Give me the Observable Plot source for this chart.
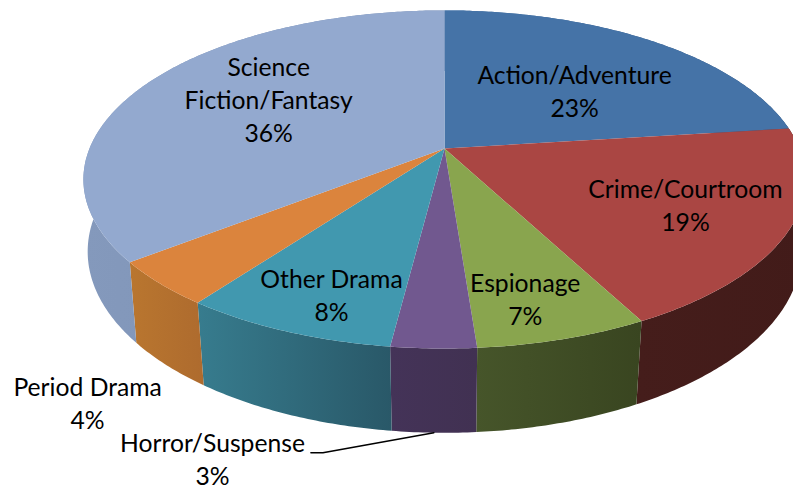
<!DOCTYPE html>
<html>
<head>
<meta charset="utf-8">
<script src="https://cdn.jsdelivr.net/npm/d3@7"></script>
<script src="https://cdn.jsdelivr.net/npm/@observablehq/plot@0.6"></script>
<style>
html,body{margin:0;padding:0;background:#fff;overflow:hidden}
svg{display:block}
</style>
</head>
<body>
<div id="chart"></div>
<script>
// Data
const categories = ["Action/Adventure","Crime/Courtroom","Espionage","Horror/Suspense","Other Drama","Period Drama","Science\nFiction/Fantasy"];
const shares = [23,19.3,6.5,3.2,8.1,4.3,35.6];

// Styles
const topColors = ["#4573A7","#AA4643","#89A54E","#71588F","#4198AF","#DB843D","#93A9CF"];
const wallLeft  = ["#4573A7","#451D1B","#46552A","#443358","#377C8E","#B9762F","#8499BC"];
const wallRight = ["#2F4E73","#421B19","#394520","#413152","#295868","#AE6B2E","#7A8FB2"];

// Label placement relative to a point at 0.6 of the radius on the slice's mid-angle (px)
const labelShift = [[0,9],[42,8],[15,44],[-226,199],[-25,44],[-196,177],[7,-9]];

// Projection of the tilted disc
const W = 793, H = 490;
const scaleX = 355, scaleY = 163.4, originX = 444, originY = 148;
const tilt = 0.183, depth = 73.5 / scaleY;

function project(turn, r, lower) {
  const a = turn * 2 * Math.PI, u = r * Math.sin(a), v = -r * Math.cos(a), d = 1 - tilt * v;
  if (!lower) return {x: u / d, y: v / d};
  const shrink = 0.972 + (d - 0.82) * 0.109;
  return {x: shrink * u / d, y: (shrink * v + depth) / d};
}

const starts = d3.cumsum([0, ...shares.slice(0, -1)]);
const slices = categories.map((name, i) => ({
  i, name, share: shares[i],
  a0: starts[i] / 100,
  a1: (starts[i] + shares[i]) / 100,
  mid: (starts[i] + shares[i] / 2) / 100
}));

function arc(s, lower) {
  const n = Math.max(4, Math.round(s.share * 6));
  return d3.range(n + 1).map(j => project(s.a0 + (s.a1 - s.a0) * j / n, 1, lower));
}
const topFace = s => [project(0, 0, false), ...arc(s, false)];
const wallFace = s => [...arc(s, false), ...arc(s, true).reverse()];

const gradients = () => {
  const ns = "http://www.w3.org/2000/svg";
  const defs = document.createElementNS(ns, "defs");
  slices.forEach(s => {
    const g = document.createElementNS(ns, "linearGradient");
    g.setAttribute("id", "wall" + s.i);
    [[0, wallLeft[s.i]], [1, wallRight[s.i]]].forEach(([o, c]) => {
      const st = document.createElementNS(ns, "stop");
      st.setAttribute("offset", o);
      st.setAttribute("stop-color", c);
      g.appendChild(st);
    });
    defs.appendChild(g);
  });
  return defs;
};

const line = (pts, fill) => Plot.line(pts, {x: "x", y: "y", fill, stroke: "none", curve: "linear-closed", clip: true});

const pxX = 1 / scaleX, pxY = 1 / scaleY;
const horror = slices[3];
const leaderEnd = project(horror.mid, 1, true);
const leaderKnee = {x: leaderEnd.x - 111 * pxX, y: leaderEnd.y + 20 * pxY};
const leaderStart = {x: leaderKnee.x - 12 * pxX, y: leaderKnee.y};

const chart = Plot.plot({
  width: W, height: H, margin: 0,
  style: {background: "#fff"},
  x: {domain: [-originX / scaleX, (W - originX) / scaleX], range: [0, W], axis: null},
  y: {domain: [-originY / scaleY, (H - originY) / scaleY], range: [0, H], axis: null},
  marks: [
    gradients,
    ...slices.map(s => line(wallFace(s), `url(#wall${s.i})`)),
    ...slices.map(s => line(topFace(s), topColors[s.i])),
    Plot.line([leaderStart, leaderKnee, leaderEnd], {x: "x", y: "y", stroke: "#000", strokeWidth: 1.5}),
    ...slices.map(s => {
      const p = project(s.mid, 0.6, false);
      return Plot.text([s], {
        x: () => p.x, y: () => p.y,
        text: d => `${d.name}\n${Math.round(d.share)}%`,
        dx: labelShift[s.i][0], dy: labelShift[s.i][1],
        fontFamily: "Lato", fontSize: 24.7, lineHeight: 1.335,
        fill: "#000", textAnchor: "middle", lineAnchor: "middle"
      });
    })
  ]
});
document.getElementById("chart").appendChild(chart);
</script>
</body>
</html>
